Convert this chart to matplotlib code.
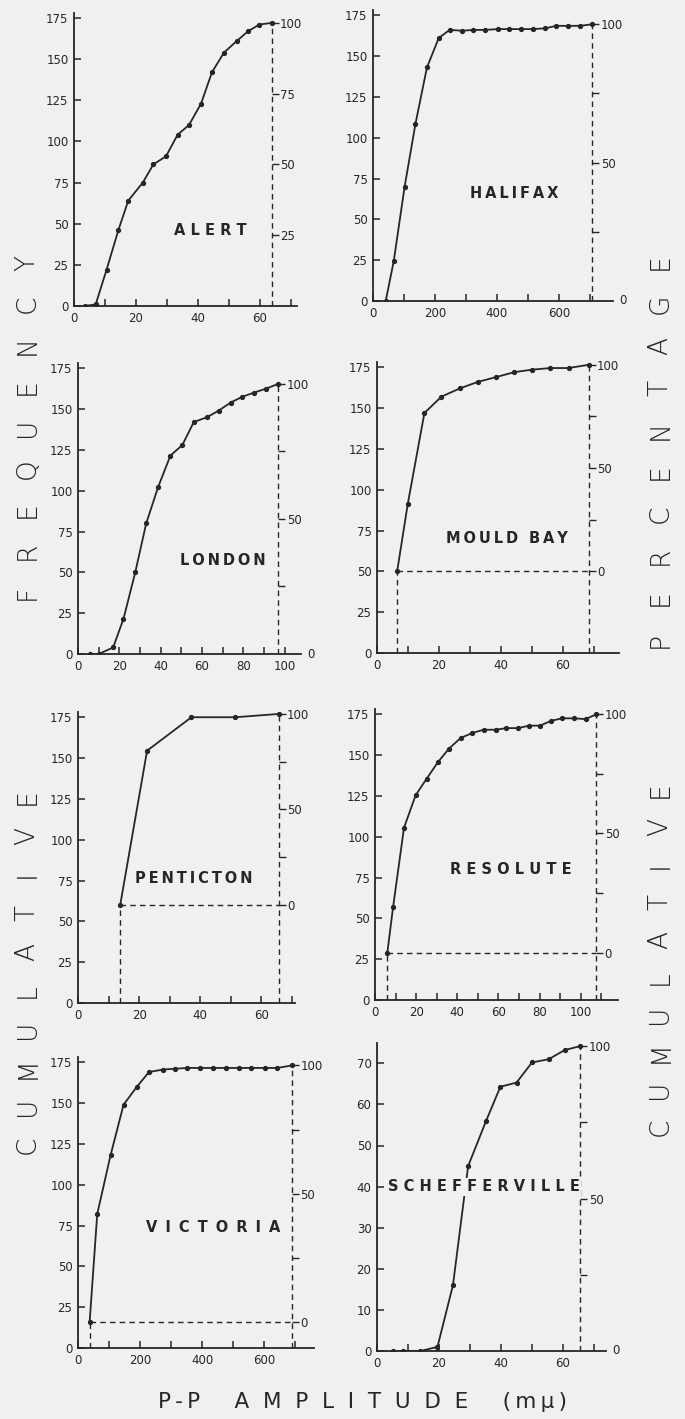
import numpy as np
import matplotlib.pyplot as plt
from matplotlib.ticker import MultipleLocator

plt.rcParams['font.family'] = ['DejaVu Sans']

INK = '#262626'
BG = '#f0f0f0'

# cumulative frequency readings, P-P amplitude in m-mu
alert_x = [3.5, 7, 10.5, 14.3, 17.5, 22.2, 25.6, 29.7, 33.4, 37.1, 41, 44.5, 48.4, 52.5, 56.2, 59.8, 63.8]
alert_y = [0, 1, 22, 46, 64, 75, 86, 91, 104, 110, 123, 142, 154, 161, 167, 171, 172]

halifax_x = [41, 67, 102, 137, 174, 212, 247, 288, 323, 362, 403, 439, 477, 516, 556, 591, 629, 669, 708]
halifax_y = [0, 24.5, 70, 108.5, 143, 161, 166, 165.5, 166, 166, 166.5, 166.5, 166.5, 166.5, 167, 168.5, 168.5, 168.5, 169.5]

london_x = [6, 10, 17, 22, 27.7, 33, 38.7, 44.7, 50.5, 56, 62.4, 68, 73.9, 79.5, 85, 91, 97]
london_y = [0, 0, 4, 21.5, 50, 80, 102, 121.5, 128, 142, 145, 149, 154, 157.5, 160, 162.5, 165.5]

mould_x = [6.5, 9.9, 15.3, 20.8, 26.7, 32.5, 38.5, 44.3, 50, 55.9, 61.8, 68.3]
mould_y = [50, 91, 147, 157, 162, 166, 169, 172, 173.5, 174.5, 174.5, 176.5]

penticton_x = [13.8, 22.6, 37.1, 51.5, 65.6]
penticton_y = [60, 154.5, 175, 175, 177]

resolute_x = [6, 8.8, 14.1, 19.8, 25.1, 30.5, 36, 41.7, 47.3, 52.8, 58.7, 63.9, 69.5, 74.9, 80.2, 85.7, 91, 96.8, 102.4, 107.6]
resolute_y = [29, 57, 105.5, 125.5, 135.5, 145.5, 154, 160.5, 163.5, 165.5, 165.5, 166.5, 166.5, 168, 168, 171, 172.5, 172.5, 172, 175]

victoria_x = [37.6, 62, 105, 147, 190, 229, 274, 312, 352, 392, 435, 476, 518, 559, 602, 642, 690]
victoria_y = [16, 82, 118, 149, 160, 169, 170.5, 171, 171.5, 171.5, 171.5, 171.5, 171.5, 171.5, 171.5, 171.5, 173]

schef_x = [5, 8.5, 14, 19.5, 24.5, 29.4, 35.2, 39.8, 45, 50, 55.4, 60.5, 65.6]
schef_y = [0, 0, 0, 1, 16, 45, 56, 64.3, 65.3, 70.2, 71, 73.2, 74.2]

stations = ['ALERT', 'HALIFAX', 'LONDON', 'MOULD BAY',
            'PENTICTON', 'RESOLUTE', 'VICTORIA', 'SCHEFFERVILLE']
xs = [alert_x, halifax_x, london_x, mould_x, penticton_x, resolute_x, victoria_x, schef_x]
ys = [alert_y, halifax_y, london_y, mould_y, penticton_y, resolute_y, victoria_y, schef_y]

# where the station name sits, in data units, and its letter spacing
name_x = [44, 457, 70, 42, 38, 66, 435, 34.4]
name_y = [46, 66, 57, 70, 76, 80, 74, 40]
name_gap = [' ', '\u2009', '\u2009', '\u2009', '\u2009', ' ', ' \u2009', ' ']

# layout in pixels of the 685 x 1419 page (origin top left)
W, H = 685, 1419
ax_left = [74, 373, 78, 377, 78, 375, 78, 377]
ax_zero = [306, 301, 654, 653, 1003, 1000, 1348, 1351]
x_px = [3.1, 0.31, 2.067, 3.1, 3.057, 2.057, 0.31, 3.1]
y_px = [1.646, 1.633, 1.633, 1.633, 1.633, 1.633, 1.633, 4.11]
x_max = [72, 775, 108, 78, 71, 118, 760, 74]
y_max = [178, 178, 178, 178, 178, 178, 178, 75]

fig = plt.figure(figsize=(W / 100, H / 100), dpi=100, facecolor=BG)

for i, name in enumerate(stations):
    x, y = np.array(xs[i]), np.array(ys[i])
    w = x_max[i] * x_px[i]
    h = y_max[i] * y_px[i]
    ax = fig.add_axes([ax_left[i] / W, 1 - ax_zero[i] / H, w / W, h / H])
    ax.set_facecolor('none')
    ax.set_xlim(0, x_max[i])
    ax.set_ylim(0, y_max[i])
    for s in ['top', 'right']:
        ax.spines[s].set_visible(False)
    for s in ['left', 'bottom']:
        ax.spines[s].set_color(INK)
        ax.spines[s].set_linewidth(1.3)

    big = x_max[i] > 300
    ax.xaxis.set_major_locator(MultipleLocator(200 if big else 20))
    ax.xaxis.set_minor_locator(MultipleLocator(100 if big else 10))
    ax.yaxis.set_major_locator(MultipleLocator(10 if y_max[i] < 100 else 25))
    ax.tick_params(which='both', direction='in', length=5, width=1.1, colors=INK,
                   labelsize=8.5, pad=4)
    ax.tick_params(axis='y', which='minor', left=False)

    ax.plot(x, y, '-', color=INK, lw=1.3, marker='o', ms=2.8, zorder=3)

    base, top = y[0], y[-1]
    dash = dict(color=INK, lw=1.0, ls=(0, (4, 3)))
    ax.plot([x[-1], x[-1]], [0, top], **dash)
    if base > 0:
        ax.plot([x[0], x[0]], [0, base], **dash)
        ax.plot([x[0], x[-1]], [base, base], **dash)

    # cumulative percentage scale along the dashed line
    f2p = lambda v, b=base, t=top: (v - b) / (t - b) * 100
    p2f = lambda p, b=base, t=top: b + p * (t - b) / 100
    sec = ax.secondary_yaxis(x[-1] / x_max[i], functions=(f2p, p2f))
    for s in sec.spines.values():
        s.set_visible(False)
    if name == 'ALERT':
        sec.set_yticks([25, 50, 75, 100], labels=['25', '50', '75', '100'])
    elif base > 0:
        sec.set_yticks([0, 25, 50, 75, 100], labels=['0', '', '50', '', '100'])
    else:
        sec.set_yticks([25, 50, 75, 100], labels=['', '50', '', '100'])
        ax.annotate('0', (x_max[i], 0), xytext=(4, 0), textcoords='offset points',
                    va='center', ha='left', fontsize=8.5, color=INK)
    sec.tick_params(direction='out', length=5, width=1.0, colors=INK,
                    labelsize=8.5, pad=1)

    txt = name_gap[i].join(name)
    bbox = dict(facecolor=BG, edgecolor='none', pad=1) if name == 'SCHEFFERVILLE' else None
    ax.text(name_x[i], name_y[i], txt, ha='center', va='center', fontsize=10.5,
            fontweight='bold', color=INK, bbox=bbox, zorder=4)

# big lettered axis titles
def letters(word, y_from, y_to, x_pos):
    ypos = np.linspace(y_from, y_to, len(word))
    for ch, yy in zip(word, ypos):
        fig.text(x_pos / W, 1 - yy / H, ch, rotation=90, ha='center', va='center',
                 fontsize=19, color=INK, fontweight='light')

letters('CUMULATIVE', 1145, 797, 27)
letters('FREQUENCY', 592, 263, 27)
letters('CUMULATIVE', 1127, 790, 660)
letters('PERCENTAGE', 640, 262, 660)

xlabel = 'P\u2009-\u2009P     ' + '  '.join('AMPLITUDE') + '     (\u2009m\u2009\u03bc\u2009)'
fig.text(362 / W, 1 - 1402 / H, xlabel, ha='center', va='center', fontsize=15.5, color=INK)

fig.savefig('out.png', dpi=100, facecolor=BG)
